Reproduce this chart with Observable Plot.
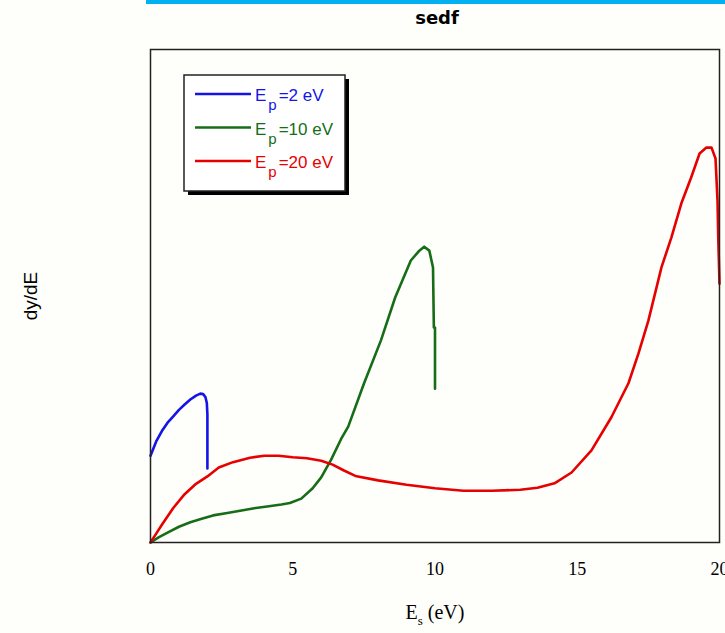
<!DOCTYPE html>
<html><head><meta charset="utf-8">
<script src="https://cdn.jsdelivr.net/npm/d3@7"></script>
<script src="https://cdn.jsdelivr.net/npm/@observablehq/plot@0.6"></script>
<style>
html,body{margin:0;padding:0;background:#fefefa;}
#chart{position:relative;width:725px;height:633px;}
</style></head><body><div id="chart"></div>
<script>
const titleText = "sedf";
const seriesNames = ["Ep=2 eV", "Ep=10 eV", "Ep=20 eV"];
const legendValues = ["=2 eV", "=10 eV", "=20 eV"];
const seriesColors = ["#1414e6", "#176d17", "#e60000"];
const xTicks = [0, 5, 10, 15, 20];

const ep2X = [0, 0.2, 0.4, 0.6, 0.8, 1.0, 1.2, 1.4, 1.6, 1.75, 1.85, 1.93, 1.98, 2.0, 2.0];
const ep2Y = [17.6, 20.5, 22.6, 24.3, 25.6, 26.9, 28.0, 29.0, 29.8, 30.2, 30.1, 29.5, 28.3, 26.0, 15.0];

const ep10X = [0, 0.3, 0.6, 1.0, 1.4, 1.8, 2.2, 2.7, 3.2, 3.7, 4.1, 4.6, 4.9, 5.3, 5.7, 6.0, 6.35, 6.7, 6.95, 7.5, 8.1, 8.6, 9.15, 9.45, 9.62, 9.8, 9.93, 9.96, 10.0, 10.0];
const ep10Y = [0, 1.1, 2.0, 3.2, 4.1, 4.8, 5.5, 6.0, 6.5, 7.0, 7.3, 7.7, 8.0, 8.9, 11.0, 13.2, 16.8, 21.0, 23.5, 32.2, 41.0, 49.7, 57.2, 59.2, 60.0, 59.2, 55.8, 43.6, 43.6, 31.2];

const ep20X = [0, 0.2, 0.4, 0.8, 1.2, 1.6, 2.0, 2.4, 2.9, 3.5, 4.0, 4.5, 5.0, 5.5, 6.0, 6.4, 6.8, 7.2, 8.0, 9.0, 10.0, 11.0, 12.0, 13.0, 13.6, 14.2, 14.8, 15.5, 16.2, 16.8, 17.15, 17.5, 17.96, 18.31, 18.66, 19.0, 19.3, 19.54, 19.72, 19.86, 19.93, 19.96, 20.0];
const ep20Y = [0, 1.8, 3.6, 7.0, 9.8, 11.9, 13.4, 15.2, 16.3, 17.2, 17.6, 17.6, 17.3, 17.1, 16.6, 15.8, 14.6, 13.5, 12.6, 11.7, 11.0, 10.5, 10.5, 10.7, 11.1, 12.0, 14.2, 18.7, 25.4, 32.3, 38.3, 45.0, 55.8, 61.9, 68.8, 74.0, 78.9, 80.1, 80.1, 77.9, 69.4, 60.9, 52.5];

const rows = [];
[[ep2X, ep2Y], [ep10X, ep10Y], [ep20X, ep20Y]].forEach(([xs, ys], i) => {
  xs.forEach((x, j) => rows.push({series: seriesNames[i], x, y: ys[j]}));
});

const plot = Plot.plot({
  width: 725, height: 633,
  marginLeft: 150, marginRight: 6, marginTop: 49, marginBottom: 91,
  style: {background: "transparent", fontFamily: "'Liberation Serif', serif", fontSize: "18px", color: "#000"},
  x: {domain: [0, 20], ticks: xTicks, tickSize: 0, tickPadding: 20, label: null},
  y: {domain: [0, 100], axis: null},
  color: {domain: seriesNames, range: seriesColors},
  marks: [
    Plot.line(rows, {x: "x", y: "y", z: "series", stroke: "series", strokeWidth: 2.6}),
    Plot.frame({stroke: "#222", strokeWidth: 1.5})
  ]
});
document.getElementById("chart").appendChild(plot);

const svg = d3.select(plot);
svg.append("rect").attr("x", 146).attr("y", 0).attr("width", 579).attr("height", 4).attr("fill", "#00b0f0");
svg.append("text").attr("x", 437).attr("y", 24).attr("text-anchor", "middle")
  .attr("font-family", "'DejaVu Sans', sans-serif").attr("font-weight", "bold").attr("font-size", 18)
  .attr("fill", "#000").text(titleText);
svg.append("text").attr("transform", "translate(37,296) rotate(-90)").attr("text-anchor", "middle")
  .attr("font-family", "'Liberation Sans', Arial, sans-serif").attr("font-size", 19).attr("fill", "#000")
  .text("dy/dE");
const xl = svg.append("text").attr("x", 435).attr("y", 619).attr("text-anchor", "middle")
  .attr("font-family", "'Liberation Serif', serif").attr("font-size", 20).attr("fill", "#000");
xl.append("tspan").text("E");
xl.append("tspan").attr("font-size", 13).attr("dy", 6).text("s");
xl.append("tspan").attr("dy", -6).text(" (eV)");

// legend
const lg = svg.append("g");
lg.append("rect").attr("x", 188).attr("y", 79).attr("width", 161).attr("height", 116).attr("fill", "#000");
lg.append("rect").attr("x", 184).attr("y", 75).attr("width", 161).attr("height", 116)
  .attr("fill", "#fff").attr("stroke", "#222").attr("stroke-width", 1.5);
seriesNames.forEach((s, i) => {
  const yy = 94 + i * 33.5;
  lg.append("line").attr("x1", 195).attr("x2", 251).attr("y1", yy).attr("y2", yy)
    .attr("stroke", seriesColors[i]).attr("stroke-width", 2.6);
  const t = lg.append("text").attr("x", 255).attr("y", yy + 7).attr("text-anchor", "start")
    .attr("font-family", "'Liberation Sans', Arial, sans-serif").attr("font-size", 17).attr("fill", seriesColors[i]);
  t.append("tspan").text("E");
  t.append("tspan").attr("font-size", 15).attr("dx", 2).attr("dy", 9).text("p");
  t.append("tspan").attr("dx", 2).attr("dy", -9).text(legendValues[i]);
});
</script></body></html>
